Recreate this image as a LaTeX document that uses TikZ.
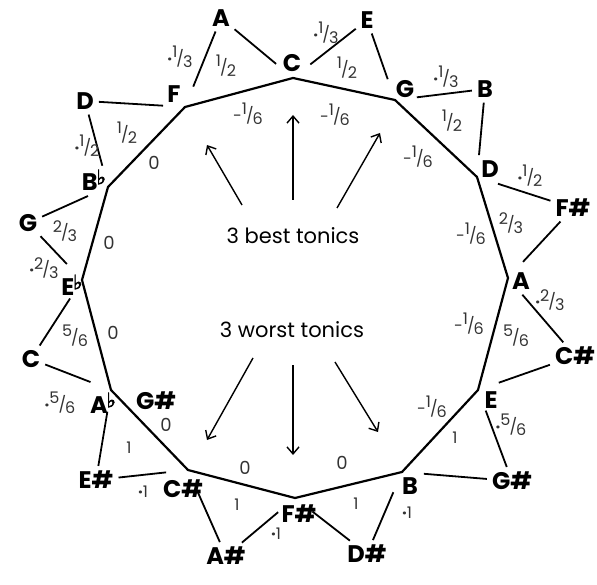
\documentclass[tikz,border=0pt]{standalone}
\usepackage{fontspec}
\setmainfont{Poppins}
\newfontfamily\symfont{DejaVu Sans}[FakeBold=2.5]
\usetikzlibrary{arrows.meta}
\newcommand{\fr}[2]{\raisebox{0.38em}{#1}\kern-0.06em/\kern-0.06em\raisebox{-0.22em}{#2}}
\newcommand{\flt}{\kern-0.05em\raisebox{0.25em}{\symfont\fontsize{20}{20}\selectfont\bfseries ♭}}
\newcommand{\dt}{{\bfseries ·}}
\tikzset{
  note/.style={font=\fontsize{24}{24}\selectfont\bfseries, inner sep=3pt},
  lab/.style={font=\fontsize{16}{16}\selectfont, text=black!80, inner sep=1pt},
  zero/.style={font=\fontsize{18}{18}\selectfont, text=black!80, inner sep=1pt},
  txt/.style={font=\fontsize{21}{21}\selectfont, inner sep=2pt},
  poly/.style={line width=2.2pt, line join=round},
  tri/.style={line width=1.8pt, shorten >=22pt, shorten <=2pt},
  arr/.style={line width=1.4pt, -{Straight Barb[length=7pt,width=12pt,line width=1.4pt]}}
}
\begin{document}
\begin{tikzpicture}[x=1pt,y=-1pt]
\useasboundingbox (0,0) rectangle (597,585);
% inner vertices
\coordinate (vC) at (293,78);
\coordinate (vG) at (395,100);
\coordinate (vD) at (477,177);
\coordinate (vA) at (508,278);
\coordinate (vE) at (478,390);
\coordinate (vB) at (402,472);
\coordinate (vFs) at (295,498);
\coordinate (vCs) at (188,470);
\coordinate (vAb) at (111,390);
\coordinate (vEb) at (82,280);
\coordinate (vBb) at (108,187);
\coordinate (vF) at (185,107);
\draw[poly] (vC) -- (vG) -- (vD) -- (vA) -- (vE) -- (vB) -- (vFs) -- (vCs) -- (vAb) -- (vEb) -- (vBb) -- (vF) -- cycle;
% inner note names
\node[note] (nC) at (292,63) {C};
\node[note] (nG) at (405,89) {G};
\node[note] (nD) at (490,169) {D};
\node[note] (nA) at (521,281) {A};
\node[note] (nE) at (491,400) {E};
\node[note] (nB) at (410,486) {B};
\node[note] (nFs) at (299,514) {F\#};
\node[note] (nCs) at (183,489) {C\#};
\node[note] (nAb) at (103,403) {A\flt};
\node[note] (nGs) at (156,401) {G\#};
\node[note] (nEb) at (72,285) {E\flt};
\node[note] (nBb) at (94,180) {B\flt};
\node[note] (nF) at (174,94) {F};
% outer note names
\node[note] (oA) at (221,18) {A};
\node[note] (oE) at (367,20) {E};
\node[note] (oB) at (485,89) {B};
\node[note] (oFs) at (573,208) {F\#};
\node[note] (oCs) at (575,356) {C\#};
\node[note] (oGs) at (512,481) {G\#};
\node[note] (oDs) at (367,554) {D\#};
\node[note] (oAs) at (226,556) {A\#};
\node[note] (oEs) at (96,480) {E\#};
\node[note] (oC) at (31,359) {C};
\node[note] (oG) at (28,223) {G};
\node[note] (oD) at (85,101) {D};
% triangles
\draw[tri] (oA) -- (vF);  \draw[tri] (oA) -- (vC);
\draw[tri] (oE) -- (vC);  \draw[tri] (oE) -- (vG);
\draw[tri] (oB) -- (vG);  \draw[tri] (oB) -- (vD);
\draw[tri] (oFs) -- (vD); \draw[tri] (oFs) -- (vA);
\draw[tri] (oCs) -- (vA); \draw[tri] (oCs) -- (vE);
\draw[tri] (oGs) -- (vE); \draw[tri] (oGs) -- (vB);
\draw[tri] (oDs) -- (vB); \draw[tri] (oDs) -- (vFs);
\draw[tri] (oAs) -- (vFs); \draw[tri] (oAs) -- (vCs);
\draw[tri] (oEs) -- (vCs); \draw[tri] (oEs) -- (vAb);
\draw[tri] (oC) -- (vAb); \draw[tri] (oC) -- (vEb);
\draw[tri] (oG) -- (vEb); \draw[tri] (oG) -- (vBb);
\draw[tri] (oD) -- (vBb); \draw[tri] (oD) -- (vF);
% fifths labels
\node[lab] (fFC) at (248,114) {-\fr{1}{6}};
\node[lab] (fCG) at (335,115) {-\fr{1}{6}};
\node[lab] (fGD) at (418,157) {-\fr{1}{6}};
\node[lab] (fDA) at (471,234) {-\fr{1}{6}};
\node[lab] (fAE) at (469,324) {-\fr{1}{6}};
\node[lab] (fEB) at (432,407) {-\fr{1}{6}};
\node[zero] (fBF) at (342,463) {0};
\node[zero] (fFC2) at (245,468) {0};
\node[zero] (fCA) at (166,425) {0};
\node[zero] (fAE2) at (113,333) {0};
\node[zero] (fEB2) at (109,243) {0};
\node[zero] (fBF2) at (154,163) {0};
% major thirds
\node[lab] (tFA) at (226,66) {\fr{1}{2}};
\node[lab] (tCE) at (347,68) {\fr{1}{2}};
\node[lab] (tGB) at (452,121) {\fr{1}{2}};
\node[lab] (tDF) at (511,223) {\fr{2}{3}};
\node[lab] (tAC) at (516,336) {\fr{5}{6}};
\node[lab] (tEG) at (455,438) {1};
\node[lab] (tBD) at (356,504) {1};
\node[lab] (tFA2) at (237,505) {1};
\node[lab] (tCE2) at (129,448) {1};
\node[lab] (tAC2) at (75,336) {\fr{5}{6}};
\node[lab] (tEG2) at (65,231) {\fr{2}{3}};
\node[lab] (tBD2) at (127,133) {\fr{1}{2}};
% minor thirds
\node[lab] (mDF) at (180,57) {\dt\fr{1}{3}};
\node[lab] (mAC) at (326,33) {\dt\fr{1}{3}};
\node[lab] (mEG) at (446,77) {\dt\fr{1}{3}};
\node[lab] (mBD) at (530,176) {\dt\fr{1}{2}};
\node[lab] (mFA) at (550,300) {\dt\fr{2}{3}};
\node[lab] (mCE) at (511,425) {\dt\fr{5}{6}};
\node[lab] (mGB) at (407,513) {\dt 1};
\node[lab] (mDF2) at (276,534) {\dt 1};
\node[lab] (mAC2) at (143,492) {\dt 1};
\node[lab] (mEG2) at (60,403) {\dt\fr{5}{6}};
\node[lab] (mCE2) at (44,268) {\dt\fr{2}{3}};
\node[lab] (mGB2) at (87,146) {\dt\fr{1}{2}};
% texts and arrows
\node[txt] (best) at (293,236) {3 best tonics};
\node[txt] (worst) at (292,330) {3 worst tonics};
\coordinate (b1s) at (242,205); \coordinate (b1e) at (207,145);
\coordinate (b2s) at (293,200); \coordinate (b2e) at (293,115);
\coordinate (b3s) at (337,208); \coordinate (b3e) at (380,133);
\coordinate (w1s) at (253,358); \coordinate (w1e) at (207,440);
\coordinate (w2s) at (293,365); \coordinate (w2e) at (293,455);
\coordinate (w3s) at (335,362); \coordinate (w3e) at (378,432);
\draw[arr] (b1s) -- (b1e);
\draw[arr] (b2s) -- (b2e);
\draw[arr] (b3s) -- (b3e);
\draw[arr] (w1s) -- (w1e);
\draw[arr] (w2s) -- (w2e);
\draw[arr] (w3s) -- (w3e);
\end{tikzpicture}
\end{document}
